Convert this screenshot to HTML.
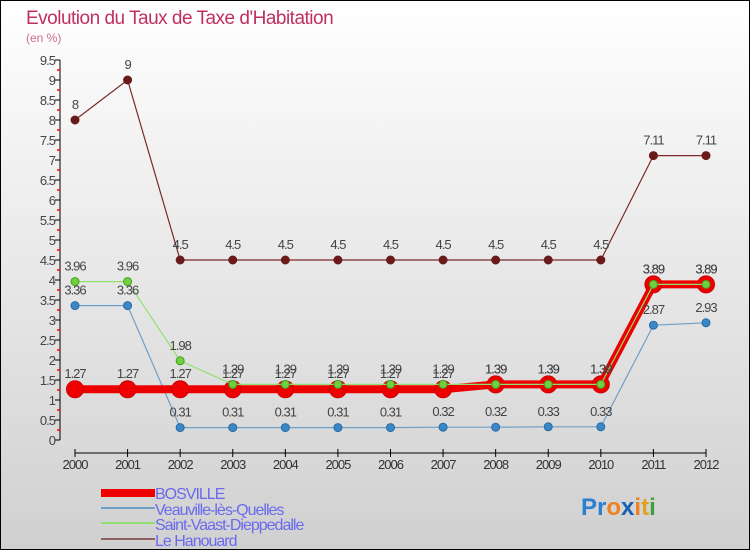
<!DOCTYPE html>
<html><head><meta charset="utf-8"><style>
html,body{margin:0;padding:0}
body{width:750px;height:550px;overflow:hidden;font-family:"Liberation Sans",sans-serif}
svg text{font-family:"Liberation Sans",sans-serif}
</style></head><body>
<svg id="chart" width="750" height="550" viewBox="0 0 750 550" xmlns="http://www.w3.org/2000/svg">
<defs><linearGradient id="bg" x1="0" y1="0" x2="0" y2="1"><stop offset="0" stop-color="#ffffff"/><stop offset="1" stop-color="#d0d0d0"/></linearGradient></defs>
<rect x="0.5" y="0.5" width="749" height="549" fill="url(#bg)" stroke="#000"/>
<text x="26" y="24" font-size="19" fill="#c0305f" letter-spacing="-0.5">Evolution du Taux de Taxe d'Habitation</text>
<text x="26" y="42" font-size="12" fill="#d06a8f">(en %)</text>
<g id="axes"></g><g id="series"></g><g id="labels"></g>
<g font-size="16" fill="#6a6aee">
<rect x="101" y="489" width="54" height="8" fill="#e00"/>
<text x="155" y="499" letter-spacing="-1">BOSVILLE</text>
<rect x="101" y="507" width="54" height="2" fill="#6fa0c8"/>
<text x="155" y="515" letter-spacing="-1">Veauville-lès-Quelles</text>
<rect x="101" y="522" width="54" height="2" fill="#90e070"/>
<text x="155" y="530" letter-spacing="-1">Saint-Vaast-Dieppedalle</text>
<rect x="101" y="538" width="54" height="2" fill="#906060"/>
<text x="155" y="546" letter-spacing="-1">Le Hanouard</text>
</g>
<text x="581" y="515" font-size="24" font-weight="bold"><tspan fill="#2a7fd0">Pr</tspan><tspan fill="#f08020">o</tspan><tspan fill="#1a60b0">x</tspan><tspan fill="#f08020">i</tspan><tspan fill="#e0a020">t</tspan><tspan fill="#40a040">i</tspan></text>
</svg>
<script>
const years=[2000,2001,2002,2003,2004,2005,2006,2007,2008,2009,2010,2011,2012];
const yTicks=[0,0.5,1,1.5,2,2.5,3,3.5,4,4.5,5,5.5,6,6.5,7,7.5,8,8.5,9,9.5];
const bosville=[1.27,1.27,1.27,1.27,1.27,1.27,1.27,1.27,1.39,1.39,1.39,3.89,3.89];
const veauville=[3.36,3.36,0.31,0.31,0.31,0.31,0.31,0.32,0.32,0.33,0.33,2.87,2.93];
const saintVaast=[3.96,3.96,1.98,1.39,1.39,1.39,1.39,1.39,1.39,1.39,1.39,3.89,3.89];
const hanouard=[8,9,4.5,4.5,4.5,4.5,4.5,4.5,4.5,4.5,4.5,7.11,7.11];
const NS="http://www.w3.org/2000/svg";
const x=i=>75+i*(706-75)/(years.length-1);
const y=v=>440-v*40;
function mk(tag,attrs,parent,txt){const e=document.createElementNS(NS,tag);for(const k in attrs)e.setAttribute(k,attrs[k]);if(txt!==undefined)e.textContent=txt;parent.appendChild(e);return e;}
const ax=document.getElementById('axes');
let a=mk('line',{x1:60,y1:y(9.5),x2:60,y2:440,stroke:'#000'},ax);


a=mk('line',{x1:75,y1:453,x2:706,y2:453,stroke:'#000'},ax);


yTicks.forEach(v=>{
 mk('line',{x1:55,y1:y(v),x2:60,y2:y(v),stroke:'#000'},ax);
 if(v<9.5) mk('line',{x1:57,y1:y(v+0.25),x2:60,y2:y(v+0.25),stroke:'#f00','stroke-width':1.5},ax);
 const t=mk('text',{x:55,y:y(v)+5,'text-anchor':'end','font-size':13,fill:'#444','letter-spacing':'-1'},ax,String(v));
 
 
});
years.forEach((yr,i)=>{
 mk('line',{x1:x(i),y1:449,x2:x(i),y2:457,stroke:'#000'},ax);
 const t=mk('text',{x:x(i),y:469,'text-anchor':'middle','font-size':13,fill:'#333','letter-spacing':'-1'},ax,String(yr));
 
 
});
const sg=document.getElementById('series'),lg=document.getElementById('labels');
function series(name,data,color,w,r,fill,stroke){
 const g=mk('g',{},sg);
 
 
 const p=mk('polyline',{points:data.map((v,i)=>x(i)+','+y(v)).join(' '),fill:'none',stroke:color,'stroke-width':w},g);
 
 
 data.forEach((v,i)=>{
  const c=mk('circle',{cx:x(i),cy:y(v),r:r,fill:fill,stroke:stroke,'stroke-width':1},g);
  
  
  const t=mk('text',{x:x(i),y:y(v)-11,'text-anchor':'middle','font-size':13,fill:'#444','letter-spacing':'-1'},lg,String(v));
  
  
 });
}
series('le-hanouard',hanouard,'#7a2a2a',1.2,4,'#6a1a1a','#6a1a1a');
series('veauville',veauville,'#6fa0c8',1.2,4,'#3a88c8','#2a6aa0');
series('bosville',bosville,'#e00',8,8.5,'#e00','#c00');
series('saint-vaast',saintVaast,'#90e070',1.2,4,'#70d040','#40a020');
</script>
</body></html>
